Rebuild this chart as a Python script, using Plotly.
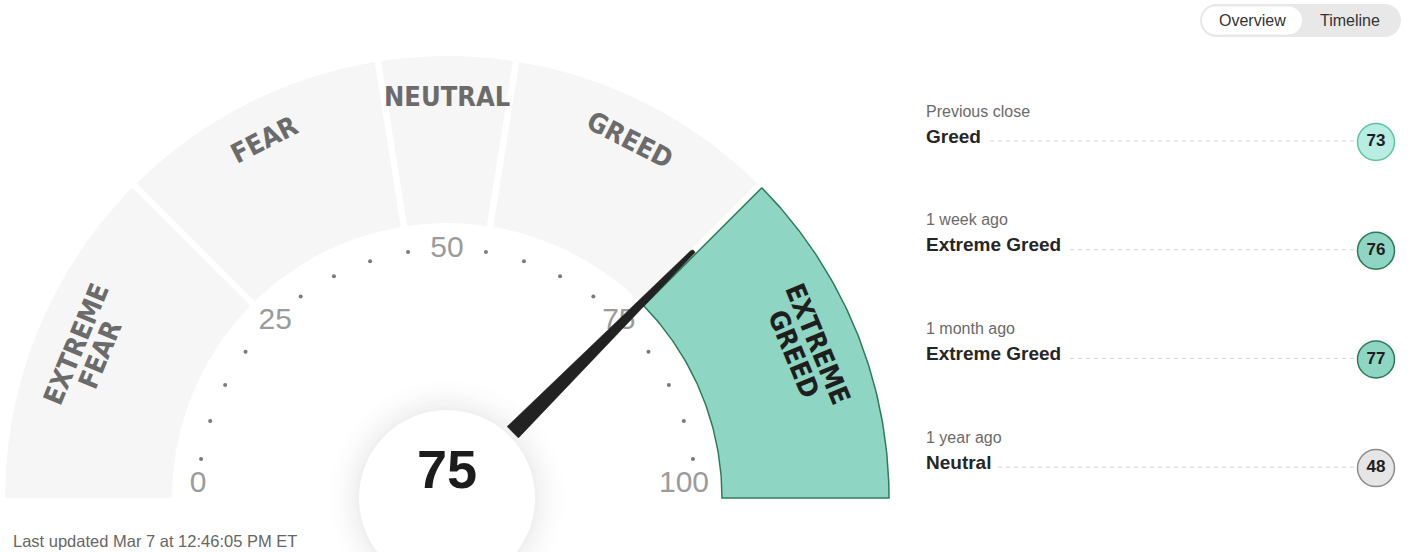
import math

import plotly.graph_objects as go

# gauge data
SEGMENT_NAMES = ["EXTREME<br>FEAR", "FEAR", "NEUTRAL", "GREED", "EXTREME<br>GREED"]
SEGMENT_EDGES = [0, 25, 45, 55, 75, 100]
SCALE_LABELS = [0, 25, 50, 75, 100]
SCALE_DOTS = [5, 10, 15, 20, 30, 35, 40, 45, 55, 60, 65, 70, 80, 85, 90, 95]
CURRENT = 75

# history panel
HIST_PERIODS = ["Previous close", "1 week ago", "1 month ago", "1 year ago"]
HIST_RATINGS = ["Greed", "Extreme Greed", "Extreme Greed", "Neutral"]
HIST_VALUES = [73, 76, 77, 48]

UPDATED = "Last updated Mar 7 at 12:46:05 PM ET"
TOGGLE = ["Overview", "Timeline"]

# page geometry (pixels)
W, H = 1408, 552
CX, CY = 447, 498
R_OUT, R_IN = 442, 275
GAP = 3.2
SANS = "Liberation Sans, Arial, sans-serif"
COND = "DejaVu Sans Condensed, sans-serif"

RATING_COLORS = {
    "Extreme Fear": ("#f3a09a", "#b3453d"),
    "Fear": ("#f8c7b9", "#d9826b"),
    "Neutral": ("#e6e6e6", "#8a8a8a"),
    "Greed": ("#b9ece3", "#5cc59f"),
    "Extreme Greed": ("#8ed6c3", "#2e7b57"),
}


def ang(v):
    return math.pi * (1 - v / 100)


def pt(r, a):
    return CX + r * math.cos(a), CY - r * math.sin(a)


def arc(r, a0, a1, n=80):
    out = [pt(r, a0 + (a1 - a0) * i / n) for i in range(n + 1)]
    return [p[0] for p in out], [p[1] for p in out]


fig = go.Figure()
shapes = []

# soft shadow round the centre disc
for k in range(16):
    t = k / 15
    r = 128 - 40 * t
    g = int(round(255 - 17 * t ** 2.2))
    shapes.append(dict(type="circle", layer="below", line_width=0,
                       fillcolor=f"rgb({g},{g},{g})",
                       x0=CX - r, x1=CX + r, y0=CY - r, y1=CY + r))
shapes.append(dict(type="circle", layer="below", line_width=0, fillcolor="white",
                   x0=CX - 88, x1=CX + 88, y0=CY - 88, y1=CY + 88))

# segments
annotations = []
for i, name in enumerate(SEGMENT_NAMES):
    v1, v2 = SEGMENT_EDGES[i], SEGMENT_EDGES[i + 1]
    active = v1 <= CURRENT < v2 or (CURRENT == 100 and v2 == 100)
    g1 = 0 if v1 == 0 else GAP
    g2 = 0 if v2 == 100 else GAP
    ox, oy = arc(R_OUT, ang(v1) - math.asin(g1 / R_OUT), ang(v2) + math.asin(g2 / R_OUT))
    ix, iy = arc(R_IN, ang(v2) + math.asin(g2 / R_IN), ang(v1) - math.asin(g1 / R_IN))
    fig.add_trace(go.Scatter(
        x=ox + ix + [ox[0]], y=oy + iy + [oy[0]], mode="lines", fill="toself",
        fillcolor="#8ed6c3" if active else "#f6f6f6",
        line=dict(color="#2e7b57" if active else "rgba(0,0,0,0)", width=1.5 if active else 0),
        hoverinfo="skip", showlegend=False))
    mid = ang((v1 + v2) / 2)
    for j, line in enumerate(name.split("<br>")):
        lx, ly = pt(402 - 26 * j, mid)
        annotations.append(dict(
            x=lx, y=ly, text=f"<b>{line}</b>", showarrow=False,
            textangle=90 - math.degrees(mid),
            font=dict(family=COND, size=27, color="#1e1e1e" if active else "#6b6b6b")))

# scale dots and numbers
dots = [pt(249, ang(v)) for v in SCALE_DOTS]
fig.add_trace(go.Scatter(
    x=[p[0] for p in dots], y=[p[1] for p in dots], mode="markers",
    marker=dict(size=4, color="#7a7a7a"), hoverinfo="skip", showlegend=False))
lab_x = [CX + (249 - 6 * (len(str(v)) - 1)) * math.cos(ang(v)) for v in SCALE_LABELS]
lab_y = [min(CY - 249 * math.sin(ang(v)), CY - 14) for v in SCALE_LABELS]
fig.add_trace(go.Scatter(
    x=lab_x, y=lab_y, mode="text",
    text=[str(v) for v in SCALE_LABELS], textposition="middle center",
    textfont=dict(family=SANS, size=30, color="#9b9b9b"),
    hoverinfo="skip", showlegend=False))

# needle
a = ang(CURRENT)
ux, uy = math.cos(a), -math.sin(a)
nx, ny = -uy, ux
bx, by = pt(93, a)
tx, ty = pt(347, a)
xs = [bx + nx * 8, tx + nx * 2.6]
ys = [by + ny * 8, ty + ny * 2.6]
for k in range(1, 8):
    t = math.pi * k / 8
    xs.append(tx + nx * 2.6 * math.cos(t) + ux * 2.6 * math.sin(t))
    ys.append(ty + ny * 2.6 * math.cos(t) + uy * 2.6 * math.sin(t))
xs += [tx - nx * 2.6, bx - nx * 8, xs[0]]
ys += [ty - ny * 2.6, by - ny * 8, ys[0]]
fig.add_trace(go.Scatter(x=xs, y=ys, mode="lines", fill="toself", fillcolor="#222222",
                         line=dict(color="#222222", width=0.5),
                         hoverinfo="skip", showlegend=False))

annotations.append(dict(x=CX, y=CY - 29, text=f"<b>{CURRENT}</b>", showarrow=False,
                        font=dict(family=SANS, size=54, color="#1c1c1c")))

# history panel
for i, (period, rating, val) in enumerate(zip(HIST_PERIODS, HIST_RATINGS, HIST_VALUES)):
    y0 = 111 + 108.7 * i
    fill, edge = RATING_COLORS[rating]
    fig.add_trace(go.Scatter(
        x=[926, 1358], y=[y0 + 30, y0 + 30], mode="lines",
        line=dict(color="#d4d4d4", width=1, dash="4px,4px"),
        hoverinfo="skip", showlegend=False))
    fig.add_trace(go.Scatter(
        x=[1376], y=[y0 + 31], mode="markers+text", text=[str(val)],
        textposition="middle center",
        textfont=dict(family=SANS, size=17, color="#1e1e1e", weight="bold"),
        marker=dict(size=37, color=fill, line=dict(color=edge, width=1.5)),
        hoverinfo="skip", showlegend=False))
    annotations.append(dict(x=920, y=y0 + 25, xanchor="left", text=f"<b>{rating}</b>",
                            showarrow=False, bgcolor="white", borderpad=5,
                            font=dict(family=SANS, size=19, color="#262626")))
    annotations.append(dict(x=924, y=y0, xanchor="left", text=period, showarrow=False,
                            font=dict(family=SANS, size=16, color="#6a6a6a")))

# overview / timeline toggle
def pill(x0, x1, y0, y1, color):
    r = (y1 - y0) / 2
    return [
        dict(type="rect", x0=x0 + r, x1=x1 - r, y0=y0, y1=y1, fillcolor=color, line_width=0),
        dict(type="circle", x0=x0, x1=x0 + 2 * r, y0=y0, y1=y1, fillcolor=color, line_width=0),
        dict(type="circle", x0=x1 - 2 * r, x1=x1, y0=y0, y1=y1, fillcolor=color, line_width=0),
    ]


shapes += pill(1200, 1401, 4, 37, "#e8e8e8")
shapes += pill(1202, 1302, 6.5, 34.5, "white")
for label, x in zip(TOGGLE, [1252, 1350]):
    annotations.append(dict(x=x, y=20.5, text=label, showarrow=False,
                            font=dict(family=SANS, size=16, color="#333333")))

annotations.append(dict(x=11, y=541, xanchor="left", text=UPDATED, showarrow=False,
                        font=dict(family=SANS, size=16.5, color="#666666")))

fig.update_layout(
    width=W, height=H, margin=dict(l=0, r=0, t=0, b=0),
    paper_bgcolor="white", plot_bgcolor="white",
    xaxis=dict(range=[0, W], visible=False, fixedrange=True),
    yaxis=dict(range=[H, 0], visible=False, fixedrange=True),
    shapes=shapes, annotations=annotations, showlegend=False,
)

fig.write_html("out.html", config={"displayModeBar": False},
               post_script="document.body.style.margin='0';")
